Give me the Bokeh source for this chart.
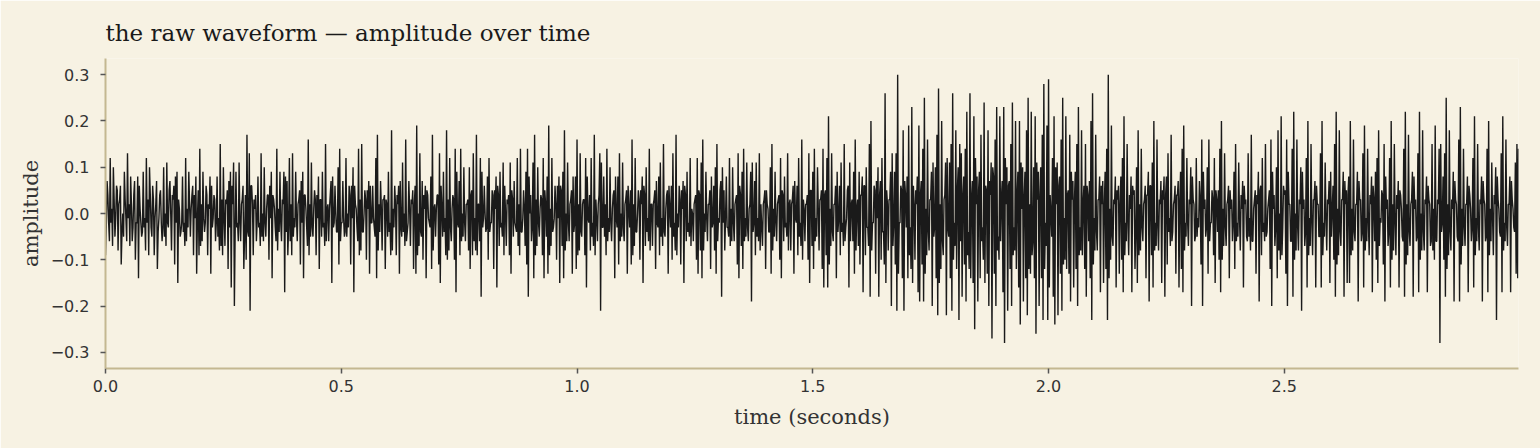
import numpy as np
from bokeh.plotting import figure
from bokeh.models import FixedTicker, CustomJSTickFormatter, Range1d
from bokeh.embed import file_html
from bokeh.resources import INLINE

# sample rate of the traced waveform (samples per second); even samples come
# from the amp_* blocks, odd (in-between) samples from the mid_* blocks
sample_rate = 600

# amplitude samples, in hundredths, 0.5 s per block
amp_0_05 = [
    -9, 7, -2, 12, 1, 10, -5, 6, -8, 3, -11, 0, 9, -1, 13, 2, 8, -6, 4, -10, -2, -14, 1, -5, 9, -1, 12, 3, 10, -3,
    6, -9, 2, -12, -1, 5, -6, 10, 0, 11, -3, 7, -8, 3, -11, -2, -15, 1, -4, 8, -2, 12, 1, 9, -5, 4, -9, -1, -13, 5,
    14, 2, 9, -4, 6, -9, 1, -13, -3, 4, -6, 8, -1, 15, 3, 10, -7, 2, -12, -3, -16, 2, -20, 9, -2, 11, -6, 3, -12, 4,
    17, -5, -21, 6, -9, 1, -6, 8, -2, 13, 0, 10, -5, 4, -10, -1, -14, 3, -3, 14, 1, 9, -6, 2, -17, -4, -9, 12, 2, 13,
    -1, 9, -6, 3, -11, -2, -14, 4, -3, 16, 2, 11, -5, 5, -9, -1, -12, 3, 9, -2, 15, 1, -6, 4, -15, -3, 6, -4, 10, 14,
]
amp_05_10 = [
    -2, 7, -5, 12, 0, 6, -11, -1, -17, 2, -3, 14, 3, 15, -4, 5, -10, 1, -13, -2, 6, -3, 12, 17, 2, 7, -8, 3, -12, 2,
    9, -2, 18, 1, 6, -9, 2, -13, -3, 11, 0, 16, -4, 7, -7, 2, -12, 6, 19, 0, 13, -5, -10, 1, -14, 4, -2, 8, 17, 1,
    -5, 4, -11, -15, 1, 9, -1, 18, 3, 12, -6, 4, -10, -17, -2, 7, 14, 0, 10, -6, 2, -8, -12, 5, 13, -1, 17, 2, -6, -18,
    -3, 6, -4, 8, 12, -2, 5, -12, 1, -16, 4, 9, -2, 11, 6, -7, 2, -9, -13, 3, 7, -3, 12, 2, 14, -4, 5, -7, -11, -18,
    0, -6, 11, 17, 3, 10, -5, 4, -9, -14, 2, 8, 19, 1, 12, -3, 6, -10, -1, -15, 5, 9, 18, 0, 11, -6, 3, -13, -4, 8,
]
amp_10_15 = [
    16, 2, 13, -5, 3, -9, -16, -1, 4, 12, -2, 17, 3, -6, 4, -21, -3, 8, 2, 14, -1, 10, -6, 4, -14, -1, 8, 13, 0, 11,
    -6, 3, -13, 1, 5, 16, 2, 12, -4, 5, -10, 2, -15, 4, 10, -1, 14, 2, -7, 3, -12, -2, 8, 11, -1, 15, -5, 4, -13, 1,
    6, 13, -2, 17, 0, 6, -11, 1, -15, 4, 9, -2, 12, 1, -6, 3, -10, -13, 4, 11, 16, 0, 9, -6, 2, -12, -3, 6, 10, 15,
    -1, 5, -18, -2, -8, 8, -3, 12, 1, 10, -6, 3, -11, -14, 4, 9, 14, -1, 11, -6, 2, -19, -4, 7, 11, -1, 13, 2, -7, 3,
    -12, 2, -4, 10, 15, 1, 9, -6, 3, -10, -14, 4, 8, -2, 13, 2, -8, 3, -13, -1, 6, 12, -2, 16, 3, -6, 2, -10, -15, 5,
]
amp_15_20 = [
    9, 14, -1, 10, -8, 3, -12, -16, 5, 12, 21, 1, 13, -6, 2, -14, -4, 6, 11, -2, 15, -3, 5, -16, -6, 3, 9, 16, 1, -7,
    -11, 4, -17, 6, 10, -3, 15, 20, -2, 6, -13, -1, -18, 7, 12, -4, 26, 5, -8, 3, -20, -7, 9, 13, 30, -2, 6, -14, -21, 4,
    8, 19, -3, 23, 6, -10, 2, -17, -19, 7, 14, 25, 1, 16, -8, 3, -20, -5, 10, 17, 27, 2, 20, -9, 4, -22, -3, 11, 15, 26,
    -2, 18, 5, -23, -6, -18, 8, 14, 22, -4, 26, 3, -15, -25, 2, -19, 9, 17, -3, 24, 6, -13, -20, 4, -27, 8, 16, 23, -5, 21,
    3, -17, -28, 2, -21, 7, 15, 24, -3, 20, 4, -16, -24, 1, -19, 9, 18, 25, 2, 22, -6, -14, -26, 3, -20, 10, 17, 28, -2, 19,
]
amp_20_25 = [
    29, 4, -5, -18, -24, 2, -22, 8, 16, 25, -1, 21, 4, -13, -19, 3, -16, 9, 15, 23, -3, 18, 2, -12, -18, 4, 7, 20, 26, -1,
    17, -8, 3, -17, 2, -15, 9, 14, 30, 1, 19, -7, 2, -16, 3, -13, 8, 12, 21, -2, 15, -9, 1, -17, 4, -12, 10, 18, 2, 14,
    -6, 3, -14, 4, -19, 6, 11, 20, -2, 16, -8, 2, -15, 3, -18, 8, 13, -1, 17, -4, 3, -13, 4, -16, 9, 14, 19, -2, 12, -7,
    2, -20, 3, -6, 12, -1, 7, -11, -20, 1, -5, 10, 16, -2, 5, -9, -15, 3, 5, 14, 20, 1, 13, -7, 3, -14, 1, -6, 9, 15,
    -2, 11, -8, 1, -16, 2, -5, 13, -1, 17, -6, 3, -13, 2, -19, 6, 12, -2, 15, -4, 3, -12, -20, 1, -7, 10, 18, 0, 21, -3,
]
amp_25_30 = [
    4, -13, -20, 2, -6, 14, 22, 0, 16, -8, 2, -21, 1, -7, 12, 20, -1, 15, -9, 3, -16, 2, -5, 13, 20, -2, 11, -8, 2, -15,
    -5, 6, 15, 22, 1, 18, -7, 3, -18, 2, -15, 8, 20, 1, 16, -6, 2, -19, 3, -6, 13, 19, -1, 14, -9, 2, -17, 3, 9, 12,
    18, -1, 5, -11, -19, 1, -7, 12, 20, 2, 15, -9, 1, -16, 4, -5, 14, 22, 2, 17, -7, 3, -18, 1, -6, 13, 22, 0, 18, -8,
    2, -17, 3, -7, 15, 1, 19, -6, 2, -28, -4, 8, 13, 25, 2, 18, -8, 1, -19, 3, -5, 16, 23, 1, 14, -7, 2, -17, 4, -6,
    12, 21, -1, 15, -8, 2, -19, 3, -6, 14, 20, 1, 11, -9, 2, -23, 3, -4, 13, 21, -2, 16, -7, 2, -17, 3, -3, 11, 15, 14,
]

# in-between samples (hundredths), one after each amp_* sample
mid_0_05 = [
    -3, 4, -6, -2, -7, 3, -1, 5, 2, 6, -4, -5, 3, -6, -1, -7, 2, -3, 7, -2, 8, 6, -2, -4, -3, -8, -2, -9, 4, -5,
    3, -1, 7, -4, 4, -2, -3, -5, -7, -2, 5, 0, 4, 6, 8, 9, 3, -5, -2, -4, -7, -6, -3, 2, 1, 6, 4, 8, -1, -9,
    -7, -6, -1, -2, 4, 2, 8, 6, -1, 3, -2, -5, -8, -7, -9, -1, 3, 5, 7, 9, 6, 11, -4, -3, -6, -2, 2, 6, -5, -10,
    -4, 13, 6, 2, 3, 4, -2, -3, -7, -5, -6, -2, 1, 4, 6, 9, 4, 1, -6, -8, -4, -2, 3, 9, 8, 7, -3, -6, -9, -5,
    -3, -1, 2, 5, 7, 9, 4, 1, -7, -9, -5, -3, 1, 3, 4, 8, 3, -5, -3, -7, -6, 2, 1, 7, 8, -2, 0, -4, -11, -6,
]
mid_05_10 = [
    -2, -1, -4, -5, -3, 4, 6, 10, 6, 1, -6, -9, -8, -4, 0, 3, 5, 7, 6, -2, -1, -5, -14, -8, -4, 1, 3, 4, 3, -5,
    -4, -9, -8, -3, 2, 4, 6, 7, -5, -4, -7, -6, -2, 1, 3, 5, 2, -13, -9, -7, -4, 7, 4, 6, 5, -1, -3, -12, -8, 2,
    1, 4, 13, 6, -5, -4, -9, -10, -8, -3, 1, 3, 14, 9, -3, -9, -6, -5, -2, 2, 3, 10, 4, -9, -6, -8, -9, 2, 12, 9,
    -1, 0, -3, -10, -4, -2, 4, 5, 8, 6, -7, -3, -5, -9, 0, 3, 4, 11, 5, -5, -2, -4, -7, -9, -4, -1, 1, 9, 14, 8,
    4, -3, -14, -9, -7, -2, 1, 3, 12, 5, -5, -13, -9, -7, -4, -1, 2, 6, 8, 6, -7, -14, -8, -6, -2, 2, 5, 8, -2, -12,
]
mid_10_15 = [
    -9, -8, -4, 2, 3, 12, 8, -2, -8, -5, -7, -9, -1, 2, 13, 11, -3, -5, -9, -6, -4, -2, 1, 5, 8, -3, -11, -6, -5, -3,
    2, 5, 6, -3, -11, -9, -7, -4, 0, 3, 5, 8, 6, -7, -4, -6, -8, 2, 2, 5, 7, -3, -9, -5, -7, -4, 1, 5, 6, -3,
    -10, -5, -8, -9, -3, 3, 5, 7, 6, -6, -4, -5, -7, 0, 2, 4, 12, 5, -8, -14, -8, -4, -1, 2, 5, 8, -2, -8, -13, -6,
    -2, 7, 10, 5, -1, -3, -5, -7, -6, -2, 2, 4, 13, 6, -7, -12, -6, -5, -3, 1, 9, 11, -2, -9, -5, -6, -8, -3, 2, 5,
    5, 1, -4, -13, -8, -5, -2, 2, 4, 12, 5, -6, -3, -5, -8, 3, 2, 6, 7, -2, -9, -5, -7, -10, 1, 2, 4, 13, 5, -7,
]
mid_15_20 = [
    -12, -6, -5, 1, 3, 5, 14, 4, -9, -16, -11, -7, -4, 2, 6, 9, -1, -9, -4, -7, -6, -1, 6, 11, 2, -6, -13, -8, 3, 9,
    4, 8, 6, -9, -3, -7, -18, -8, -2, 5, 7, 10, 4, -10, -4, -11, -15, 2, 3, 9, 13, -2, -11, -21, -13, -2, 5, 18, 7, -3,
    -14, -9, -12, -15, 2, 5, 8, 19, 4, -11, -19, -13, -9, -4, 3, 9, 11, -3, -14, -22, -15, -12, -6, 3, 11, 12, -5, -14, -21, -10,
    -7, -12, 10, 15, 13, 4, -11, -19, -9, -12, -14, 7, 21, 12, 8, 5, -14, -6, -10, -15, 5, 18, 7, 11, 10, -13, -20, -8, -10, -6,
    7, 23, 12, 10, 6, -12, -20, -9, -8, -12, 9, 20, 11, 10, 4, -14, -22, -12, -13, -9, 10, 21, 11, 9, 4, -14, -23, -12, -7, -23,
]
mid_20_25 = [
    -16, 0, 12, 21, 10, 11, 6, -13, -21, -11, -10, -12, 5, 17, 9, 7, 3, -12, -20, -9, -8, -9, 6, 15, 6, -6, -14, -23, -11, -8,
    -4, 3, 8, 6, 7, 2, -12, -23, -14, -10, -5, 3, 8, 5, 6, 2, -10, -17, -9, -6, -2, 4, 8, 6, 5, -4, -15, -9, -8, -3,
    2, 6, 4, 9, 6, -9, -16, -8, -7, -3, 3, 7, 5, 8, 4, -11, -4, -7, -6, 2, 6, 4, 7, 3, -12, -17, -8, -5, -2, 3,
    10, 8, 2, -5, -5, -3, 3, 16, 9, 3, -3, -13, -6, -2, 3, 12, 5, -4, -10, -17, -10, -7, -3, 2, 6, 5, 3, -2, -12, -6,
    -5, -1, 4, 7, 6, 3, -6, -5, -8, -6, 1, 5, 4, 9, 5, -9, -4, -6, -5, 1, 5, 16, 9, 4, -3, -14, -8, -10, -9, 6,
]
mid_25_30 = [
    5, 16, 9, 2, -6, -18, -10, -8, -3, 3, 10, 9, 3, -4, -16, -9, -7, -2, 3, 7, 6, 2, -5, -16, -9, -5, -1, 3, 7, 9,
    1, -10, -18, -11, -9, -4, 3, 9, 7, 5, 4, -15, -9, -8, -4, 2, 9, 7, 3, -4, -16, -8, -6, -2, 4, 8, 6, -6, -10, -15,
    -7, -2, 4, 15, 8, 3, -4, -16, -10, -8, -2, 4, 7, 5, 1, -6, -18, -11, -9, -4, 2, 9, 8, 3, -5, -17, -10, -8, -4, 3,
    8, 6, 2, -6, -8, -10, -6, 3, 14, 15, -2, -10, -18, -12, -9, -4, 3, 9, 7, 2, -6, -19, -11, -7, -3, 2, 8, 6, 1, -3,
    -16, -9, -6, -3, 3, 8, 7, 2, -5, -17, -9, -6, -1, 4, 10, 8, 1, -5, -17, -8, -6, -3, 2, 8, 7, 1, -4, -13, -14, -13,
]

y_ticks = [-0.3, -0.2, -0.1, 0.0, 0.1, 0.2, 0.3]
x_ticks = [0.0, 0.5, 1.0, 1.5, 2.0, 2.5]

even = np.array(amp_0_05 + amp_05_10 + amp_10_15 + amp_15_20 + amp_20_25 + amp_25_30)
odd = np.array(mid_0_05 + mid_05_10 + mid_10_15 + mid_15_20 + mid_20_25 + mid_25_30)
amplitude = np.empty(even.size + odd.size - 1)
amplitude[0::2] = even
amplitude[1::2] = odd[:-1]
amplitude = amplitude / 100.0
time = np.arange(amplitude.size) / sample_rate

BG = "#f7f2e3"
SPINE = "#c4b891"
INK = "#1a1a1a"
TXT = "#333333"

p = figure(width=1540, height=448, output_backend="svg", toolbar_location=None,
           x_range=Range1d(0, time[-1]), y_range=Range1d(-0.335, 0.335),
           title="the raw waveform \u2014 amplitude over time")
p.min_border_left = 105
p.min_border_right = 22
p.min_border_top = 58
p.min_border_bottom = 80
p.background_fill_color = BG
p.border_fill_color = BG
p.outline_line_color = None
p.grid.visible = False

p.title.text_font = "DejaVu Serif"
p.title.text_font_size = "23px"
p.title.text_font_style = "normal"
p.title.text_color = INK
p.title.offset = 0
p.title.standoff = 26

p.line(time, amplitude, line_color=INK, line_width=1.4)

for ax in (p.xaxis[0], p.yaxis[0]):
    ax.axis_line_color = SPINE
    ax.axis_line_width = 2
    ax.major_tick_line_color = "#555555"
    ax.major_tick_line_width = 1.5
    ax.major_tick_out = 5
    ax.major_tick_in = 0
    ax.minor_tick_line_color = None
    ax.major_label_text_font = "DejaVu Sans"
    ax.major_label_text_font_size = "16px"
    ax.major_label_text_color = TXT
    ax.axis_label_text_font = "DejaVu Serif"
    ax.axis_label_text_font_size = "21px"
    ax.axis_label_text_font_style = "normal"
    ax.axis_label_text_color = TXT
    ax.formatter = CustomJSTickFormatter(code="return (tick < -1e-9 ? '\\u2212' : '') + Math.abs(tick).toFixed(1);")

p.xaxis[0].ticker = FixedTicker(ticks=x_ticks)
p.yaxis[0].ticker = FixedTicker(ticks=y_ticks)
p.xaxis[0].axis_label = "time (seconds)"
p.yaxis[0].axis_label = "amplitude"
p.xaxis[0].major_label_standoff = 6
p.yaxis[0].major_label_standoff = 11
p.xaxis[0].axis_label_standoff = 10
p.yaxis[0].axis_label_standoff = 5

open("out.html", "w").write(file_html(p, INLINE))
